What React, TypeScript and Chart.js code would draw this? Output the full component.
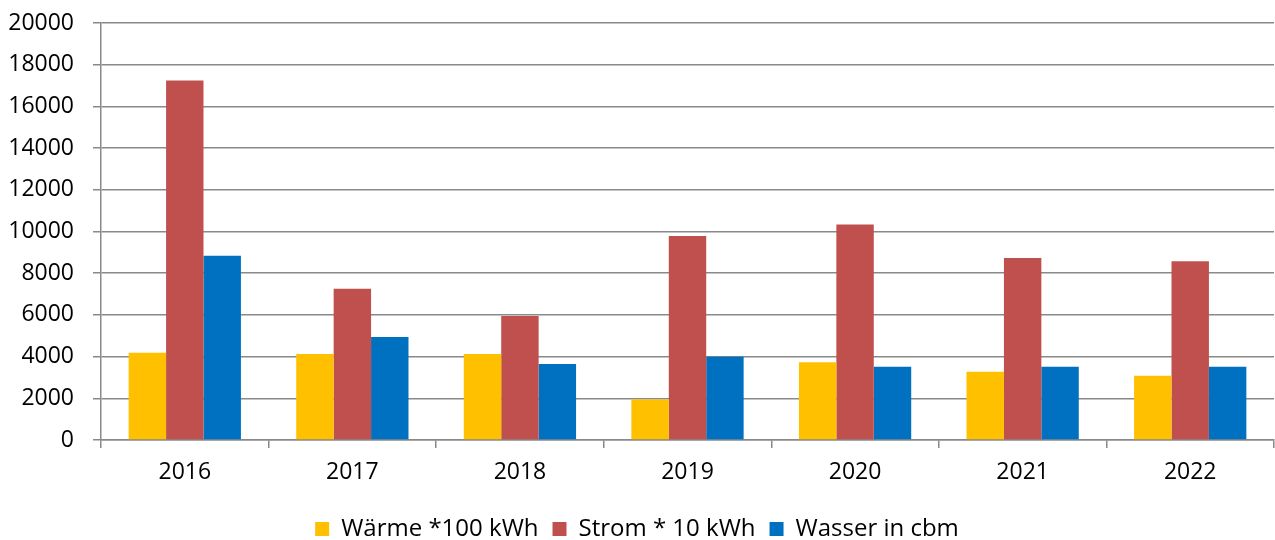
import React, { useEffect, useRef } from "react";
import { Chart, registerables } from "chart.js";

Chart.register(...registerables);

const years = ["2016", "2017", "2018", "2019", "2020", "2021", "2022"];
const waerme = [4180, 4120, 4120, 1940, 3730, 3270, 3080];
const strom = [17240, 7250, 5950, 9790, 10330, 8730, 8570];
const wasser = [8840, 4940, 3640, 3990, 3510, 3510, 3510];
const seriesNames = ["Wärme *100 kWh", "Strom * 10 kWh", "Wasser in cbm"];
const seriesColors = ["#FFC000", "#C0504D", "#0070C0"];

const FONT = "'Open Sans', sans-serif";
const GRID = "#898989";

export default function App() {
  const ref = useRef<HTMLCanvasElement | null>(null);
  useEffect(() => {
    if (!ref.current) return;
    const chart = new Chart(ref.current, {
      type: "bar",
      data: {
        labels: years,
        datasets: [waerme, strom, wasser].map((d, i) => ({
          label: seriesNames[i],
          data: d,
          backgroundColor: seriesColors[i],
          borderWidth: 0,
          categoryPercentage: 0.67,
          barPercentage: 1,
        })),
      },
      options: {
        animation: false,
        responsive: false,
        maintainAspectRatio: false,
        layout: { padding: { top: 23, right: 1, left: 0, bottom: -11 } },
        plugins: {
          tooltip: { enabled: false },
          legend: {
            position: "bottom",
            labels: {
              font: { family: FONT, size: 24 },
              color: "#000",
              boxWidth: 14,
              boxHeight: 14,
              padding: 14,
            },
          },
        },
        scales: {
          x: {
            grid: {
              display: true,
              offset: true,
              drawOnChartArea: false,
              drawTicks: true,
              tickLength: 8,
              color: GRID,
              lineWidth: 1.5,
            },
            border: { color: GRID, width: 1.5 },
            ticks: {
              font: { family: FONT, size: 23 },
              color: "#000",
              padding: 10.5,
            },
            afterFit: (s: any) => {
              s.height = 63;
              s.paddingLeft = 0;
              s.paddingRight = 0;
            },
          },
          y: {
            min: 0,
            max: 20000,
            ticks: {
              stepSize: 2000,
              font: { family: FONT, size: 23 },
              color: "#000",
              padding: 19,
              callback: (v: any) => String(v),
            },
            grid: { color: GRID, lineWidth: 1.5, tickLength: 8 },
            border: { color: GRID, width: 1.5 },
            afterFit: (s: any) => {
              s.width = 101;
              s.paddingTop = 0;
              s.paddingBottom = 0;
            },
          },
        },
      },
    });
    return () => chart.destroy();
  }, []);
  return (
    <div style={{ position: "absolute", left: 0, top: 0, width: 1275, height: 540 }}>
      <canvas ref={ref} width={1275} height={540} />
    </div>
  );
}
